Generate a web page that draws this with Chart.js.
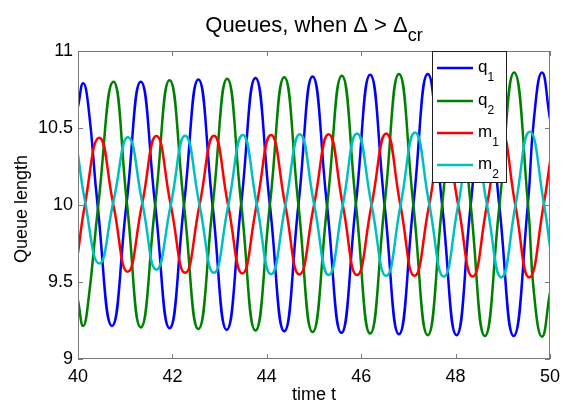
<!DOCTYPE html>
<html><head><meta charset="utf-8">
<script src="https://cdn.jsdelivr.net/npm/chart.js@4.4.0/dist/chart.umd.min.js"></script>
<style>html,body{margin:0;padding:0;background:#fff;}</style>
</head><body>
<canvas id="c" width="567" height="407"></canvas>
<script>
// ---- data ----
const xTicks = [40, 42, 44, 46, 48, 50];
const yTicks = [9, 9.5, 10, 10.5, 11];
const titleMain = 'Queues, when Δ > Δ';
const titleSub = 'cr';
const xLabel = 'time t';
const yLabel = 'Queue length';
const seriesNames = ['q_1', 'q_2', 'm_1', 'm_2'];
const seriesColors = ['#0000ff', '#008000', '#ff0000', '#00bfbf'];

const q1T = [40, 40.11, 40.22, 40.415, 40.72, 41.025, 41.33, 41.635, 41.94, 42.245, 42.55, 42.85, 43.15, 43.455, 43.76, 44.065, 44.37, 44.67, 44.97, 45.275, 45.58, 45.885, 46.19, 46.495, 46.80, 47.105, 47.41, 47.715, 48.02, 48.32, 48.62, 48.925, 49.23, 49.53, 49.66, 49.83, 50];
const q1V = [10.64, 10.79, 10.64, 10.0, 9.215, 10.0, 10.80, 10.0, 9.20, 10.0, 10.815, 10.0, 9.19, 10.0, 10.825, 10.0, 9.18, 10.0, 10.835, 10.0, 9.17, 10.0, 10.845, 10.0, 9.16, 10.0, 10.85, 10.0, 9.155, 10.0, 10.855, 10.0, 9.15, 10.0, 10.56, 10.86, 10.56];

const q2T = [40, 40.11, 40.22, 40.43, 40.75, 41.04, 41.33, 41.635, 41.94, 42.245, 42.55, 42.855, 43.16, 43.46, 43.76, 44.065, 44.37, 44.67, 44.97, 45.28, 45.59, 45.89, 46.19, 46.495, 46.80, 47.105, 47.41, 47.715, 48.02, 48.32, 48.62, 48.93, 49.24, 49.535, 49.66, 49.83, 50];
const q2V = [9.38, 9.215, 9.38, 10.0, 10.80, 10.0, 9.205, 10.0, 10.81, 10.0, 9.195, 10.0, 10.82, 10.0, 9.185, 10.0, 10.83, 10.0, 9.175, 10.0, 10.84, 10.0, 9.165, 10.0, 10.85, 10.0, 9.155, 10.0, 10.855, 10.0, 9.15, 10.0, 10.86, 10.0, 9.43, 9.145, 9.43];

const m1T = [40, 40.145, 40.45, 40.75, 41.05, 41.355, 41.66, 41.965, 42.27, 42.575, 42.88, 43.18, 43.48, 43.785, 44.09, 44.39, 44.69, 45.0, 45.31, 45.61, 45.91, 46.22, 46.53, 46.83, 47.13, 47.44, 47.75, 48.055, 48.36, 48.665, 48.97, 49.265, 49.56, 49.865, 50];
const m1V = [9.69, 10.0, 10.437, 10.0, 9.567, 10.0, 10.448, 10.0, 9.56, 10.0, 10.45, 10.0, 9.556, 10.0, 10.455, 10.0, 9.548, 10.0, 10.46, 10.0, 9.545, 10.0, 10.465, 10.0, 9.54, 10.0, 10.47, 10.0, 9.535, 10.0, 10.475, 10.0, 9.53, 10.0, 10.28];

const m2T = [40, 40.145, 40.45, 40.755, 41.06, 41.365, 41.66, 41.965, 42.27, 42.575, 42.88, 43.185, 43.49, 43.79, 44.09, 44.395, 44.70, 45.005, 45.31, 45.61, 45.91, 46.22, 46.53, 46.835, 47.14, 47.445, 47.75, 48.055, 48.36, 48.665, 48.97, 49.27, 49.57, 49.875, 50];
const m2V = [10.325, 10.03, 9.62, 10.03, 10.44, 10.01, 9.58, 10.0, 10.45, 10.0, 9.56, 10.0, 10.455, 10.0, 9.55, 10.0, 10.46, 10.0, 9.545, 10.0, 10.465, 10.0, 9.54, 10.0, 10.47, 10.0, 9.535, 10.0, 10.475, 10.0, 9.53, 10.0, 10.476, 10.0, 9.73];

// ---- chart ----
const FONT = "'Liberation Sans', Arial, Helvetica, sans-serif";
const seriesT = [q1T, q2T, m1T, m2T];
const seriesV = [q1V, q2V, m1V, m2V];

const datasets = seriesNames.map((name, i) => ({
  label: name,
  data: seriesT[i].map((t, k) => ({ x: t, y: seriesV[i][k] })),
  borderColor: seriesColors[i],
  backgroundColor: seriesColors[i],
  borderWidth: 2.5,
  pointRadius: 0,
  tension: 0.5,
  fill: false,
  order: 4 - i
}));

function drawSubText(ctx, x, y, main, sub, size, subSize, subDrop) {
  ctx.font = size + 'px ' + FONT;
  ctx.fillText(main, x, y);
  const w = ctx.measureText(main).width;
  ctx.font = subSize + 'px ' + FONT;
  ctx.fillText(sub, x + w, y + subDrop);
}

const framePlugin = {
  id: 'frame',
  afterDatasetsDraw(chart) {
    const { ctx, chartArea: a, scales } = chart;
    const xs = scales.x, ys = scales.y;
    ctx.save();
    // frame
    ctx.strokeStyle = '#7a7a7a';
    ctx.lineWidth = 1;
    ctx.strokeRect(Math.round(a.left) + 0.5, Math.round(a.top) + 0.5,
      Math.round(a.right - a.left) - 1, Math.round(a.bottom - a.top) - 1);
    // inward ticks
    const TL = 5;
    ctx.beginPath();
    xTicks.forEach(v => {
      const px = Math.round(xs.getPixelForValue(v)) + 0.5;
      ctx.moveTo(px, a.bottom); ctx.lineTo(px, a.bottom - TL);
      ctx.moveTo(px, a.top); ctx.lineTo(px, a.top + TL);
    });
    yTicks.forEach(v => {
      const py = Math.round(ys.getPixelForValue(v)) + 0.5;
      ctx.moveTo(a.left, py); ctx.lineTo(a.left + TL, py);
      ctx.moveTo(a.right, py); ctx.lineTo(a.right - TL, py);
    });
    ctx.stroke();

    // legend box (inside, top right)
    const L = { left: 432, top: Math.round(a.top), right: 507, bottom: 183 };
    ctx.fillStyle = '#fff';
    ctx.fillRect(L.left, L.top, L.right - L.left, L.bottom - L.top);
    ctx.strokeStyle = '#202020';
    ctx.strokeRect(L.left + 0.5, L.top + 0.5, L.right - L.left - 1, L.bottom - L.top - 1);
    const rowY = [68, 101, 133, 165];
    chart.data.datasets.forEach((ds, i) => {
      const y = rowY[i];
      ctx.strokeStyle = ds.borderColor;
      ctx.lineWidth = 2.5;
      ctx.beginPath(); ctx.moveTo(437, y); ctx.lineTo(473, y); ctx.stroke();
      ctx.fillStyle = '#000';
      ctx.textAlign = 'left'; ctx.textBaseline = 'alphabetic';
      const parts = ds.label.split('_');
      drawSubText(ctx, 478, y + 4, parts[0], parts[1] || '', 17, 12, 9);
    });

    // title
    ctx.fillStyle = '#000';
    ctx.textBaseline = 'alphabetic';
    ctx.textAlign = 'left';
    ctx.font = '22px ' + FONT;
    const wm = ctx.measureText(titleMain).width;
    ctx.font = '18px ' + FONT;
    const ws = ctx.measureText(titleSub).width;
    const cx = (a.left + a.right) / 2;
    drawSubText(ctx, cx - (wm + ws) / 2, 32, titleMain, titleSub, 22, 18, 9);

    // axis titles
    ctx.font = '18px ' + FONT;
    ctx.textAlign = 'center';
    ctx.fillText(xLabel, cx, 400);
    ctx.save();
    ctx.translate(22, (a.top + a.bottom) / 2 + 4);
    ctx.rotate(-Math.PI / 2);
    ctx.textBaseline = 'middle';
    ctx.fillText(yLabel, 0, 0);
    ctx.restore();
    ctx.restore();
  }
};

new Chart(document.getElementById('c').getContext('2d'), {
  type: 'line',
  data: { datasets },
  options: {
    responsive: false,
    animation: false,
    devicePixelRatio: 1,
    layout: { padding: { top: 51, right: 15, left: 0, bottom: 0 } },
    plugins: { legend: { display: false }, title: { display: false }, tooltip: { enabled: false } },
    scales: {
      x: {
        type: 'linear', min: 40, max: 50,
        afterBuildTicks: s => { s.ticks = xTicks.map(v => ({ value: v })); },
        afterFit: s => { s.height = 48; },
        grid: { display: false, drawTicks: false },
        border: { display: false },
        ticks: { padding: 7, color: '#000', font: { size: 18, family: FONT }, maxRotation: 0, autoSkip: false,
                 callback: v => String(v) }
      },
      y: {
        type: 'linear', min: 9, max: 11,
        afterBuildTicks: s => { s.ticks = yTicks.map(v => ({ value: v })); },
        afterFit: s => { s.width = 78; },
        grid: { display: false, drawTicks: false },
        border: { display: false },
        ticks: { padding: 5, color: '#000', font: { size: 18, family: FONT }, autoSkip: false,
                 callback: v => String(v) }
      }
    }
  },
  plugins: [framePlugin]
});
</script>
</body></html>
